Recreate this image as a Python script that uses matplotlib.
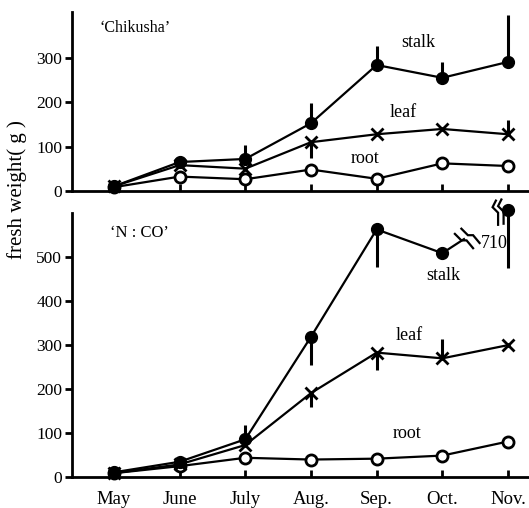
import numpy as np
import matplotlib
matplotlib.use("Agg")
import matplotlib.pyplot as plt

plt.rcParams["font.family"] = ["Liberation Serif", "DejaVu Serif"]

months = ["May", "June", "July", "Aug.", "Sep.", "Oct.", "Nov."]

# 'Chikusha'
stalk_chi = [10, 65, 72, 153, 285, 256, 292]
leaf_chi = [10, 58, 50, 110, 128, 140, 128]
root_chi = [8, 32, 26, 48, 27, 62, 56]
stalk_chi_err = [np.nan, np.nan, 103, 198, 327, 292, 398]
leaf_chi_err = [np.nan, np.nan, np.nan, 74, np.nan, np.nan, 160]

# 'N : CO'
stalk_nco = [10, 34, 85, 318, 562, 508, 710]
leaf_nco = [8, 28, 72, 190, 282, 269, 299]
root_nco = [8, 24, 43, 39, 41, 48, 80]
stalk_nco_err = [np.nan, np.nan, 117, 254, 477, np.nan, 474]
leaf_nco_err = [np.nan, np.nan, np.nan, 159, 242, 314, np.nan]
nco_cap = 605  # where the broken Nov. value is drawn

x = np.arange(len(months))

fig = plt.figure(figsize=(5.29, 5.08), dpi=100)
ax1 = fig.add_axes([0.136, 0.6246, 0.864, 0.3516])
ax2 = fig.add_axes([0.136, 0.0616, 0.864, 0.5197])

line_kw = dict(color="black", lw=1.6, clip_on=False)


def draw_series(ax, stalk, leaf, root, stalk_err, leaf_err):
    for vals, err in [(stalk, stalk_err), (leaf, leaf_err)]:
        for xi, v, e in zip(x, vals, err):
            if not np.isnan(e):
                ax.vlines(xi, v, e, color="black", lw=2.2, clip_on=False)
    ax.plot(x[:len(root)], root, marker="o", ms=8, mfc="white", mec="black", mew=2, zorder=4, **line_kw)
    ax.plot(x[:len(leaf)], leaf, marker="x", ms=9, mew=2, zorder=5, **line_kw)
    ax.plot(x[:len(stalk)], stalk, marker="o", ms=8.5, mfc="black", mec="black", zorder=6, **line_kw)


def style(ax, ylim, yticks):
    ax.set_xlim(-0.64, 6.32)
    ax.set_ylim(0, ylim)
    ax.set_yticks(yticks)
    ax.set_xticks(x)
    for s in ["top", "right"]:
        ax.spines[s].set_visible(False)
    for s in ["left", "bottom"]:
        ax.spines[s].set_linewidth(2)
    ax.tick_params(axis="y", direction="out", length=5, width=2, labelsize=12.5, pad=2)
    ax.tick_params(axis="x", direction="in", length=5, width=2, labelsize=13.5, pad=10)


def squiggle(ax, xc, yc, strokes, scale=1.0):
    # double zig-zag break sign; strokes are pixel offsets (y downwards) around (xc, yc)
    base = ax.transData.transform((xc, yc))
    for s in strokes:
        s = np.asarray(s, dtype=float) * scale
        px = base[0] + s[:, 0]
        py = base[1] - s[:, 1]
        inv = ax.transData.inverted().transform(np.column_stack([px, py]))
        ax.plot(inv[:, 0], inv[:, 1], color="black", lw=1.6, clip_on=False,
                solid_joinstyle="miter")


style(ax1, 405, [0, 100, 200, 300])
draw_series(ax1, stalk_chi, leaf_chi, root_chi, stalk_chi_err, leaf_chi_err)
ax1.set_xticklabels([])
ax1.text(0.061, 0.911, "\u2018Chikusha\u2019", transform=ax1.transAxes, fontsize=11.5, va="center")
ax1.text(4.63, 335, "stalk", fontsize=13, ha="center", va="center")
ax1.text(4.40, 178, "leaf", fontsize=13, ha="center", va="center")
ax1.text(3.82, 72, "root", fontsize=13, ha="center", va="center")

# bottom panel: Nov. stalk is off scale, drawn at the cap with a break
style(ax2, 600, [0, 100, 200, 300, 400, 500])
draw_series(ax2, stalk_nco[:6], leaf_nco, root_nco, stalk_nco_err[:6], leaf_nco_err)
ax2.vlines(x[6], stalk_nco_err[6], nco_cap, color="black", lw=2.2, clip_on=False)
ax2.plot(x[6], nco_cap, marker="o", ms=8.5, color="black", zorder=6, clip_on=False)
frac = 0.33
bx = x[5] + frac
by = stalk_nco[5] + frac * (nco_cap - stalk_nco[5])
ax2.plot([x[5], bx], [stalk_nco[5], by], **line_kw)
squiggle(ax2, bx, by, [[(-2, -8), (3, -3), (7, -3), (12, 3)],
                       [(-7, -4), (-2, 1), (2, 1), (7, 7)]], scale=1.3)
squiggle(ax2, x[6], nco_cap, [[(-11, -9), (-14, -3), (-9, 2), (-9, 13)],
                              [(-6, -10), (-9, -4), (-4, 1), (-4, 12)]], scale=1.1)
ax2.text(5.79, 531, str(stalk_nco[6]), fontsize=13, ha="center", va="center")

ax2.set_xticklabels(months)
ax2.text(0.083, 0.923, "\u2018N : CO\u2019", transform=ax2.transAxes, fontsize=12, va="center")
ax2.text(5.01, 458, "stalk", fontsize=13, ha="center", va="center")
ax2.text(4.49, 322, "leaf", fontsize=13, ha="center", va="center")
ax2.text(4.47, 99, "root", fontsize=13, ha="center", va="center")

fig.text(0.032, 0.626, "fresh weight( g )", rotation=90, ha="center", va="center", fontsize=15)

fig.savefig("out.png", dpi=100)
